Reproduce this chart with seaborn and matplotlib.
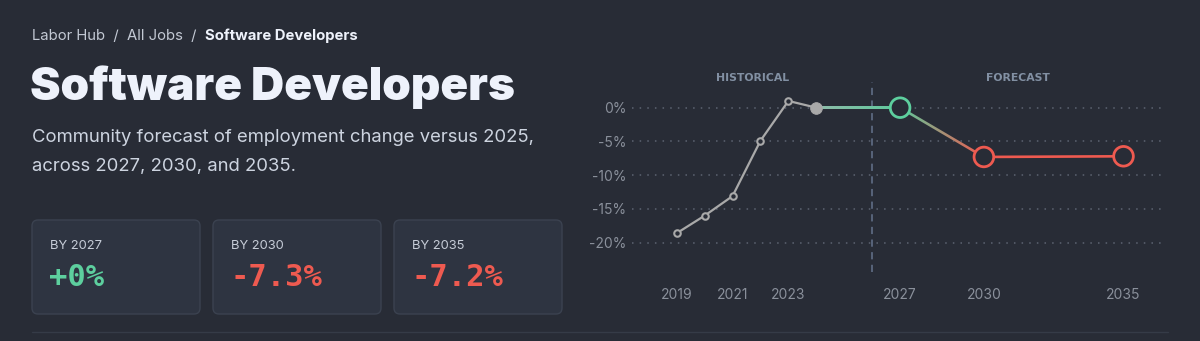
import numpy as np
import pandas as pd
import matplotlib
matplotlib.use("Agg")
import matplotlib.pyplot as plt
import seaborn as sns
from matplotlib.patches import FancyBboxPatch, Polygon
from matplotlib.lines import Line2D
from matplotlib.transforms import IdentityTransform
from matplotlib.colors import LinearSegmentedColormap

# --- Dados ---
hist_years = [2019, 2020, 2021, 2022, 2023, 2024]
hist_change = [-18.6, -16.0, -13.1, -4.9, 1.0, 0.0]
fc_years = [2024, 2027, 2030, 2035]
fc_change = [0.0, 0.0, -7.3, -7.2]
xtick_years = [2019, 2021, 2023, 2027, 2030, 2035]
ytick_vals = [0, -5, -10, -15, -20]
card_labels = ["BY 2027", "BY 2030", "BY 2035"]
card_values = ["+0%", "-7.3%", "-7.2%"]

# --- Cores ---
BG = "#282c36"
CARD = "#2e3441"
CARD_EDGE = "#3b4250"
GREEN = "#5dcf9e"
RED = "#ee5a50"
GRAY = "#a9a9a9"
MUTED = "#8a909b"
TEXT = "#eef2fb"

sns.set_theme(style="dark", rc={
    "figure.facecolor": BG, "axes.facecolor": BG, "savefig.facecolor": BG,
    "axes.edgecolor": BG, "text.color": TEXT, "xtick.color": MUTED,
    "ytick.color": MUTED, "axes.grid": False,
})
plt.rcParams["font.family"] = ["Inter", "DejaVu Sans"]

W, H = 1200, 341
fig = plt.figure(figsize=(W / 100, H / 100), dpi=100)

def px(x, y):
    # pixel da imagem (origem no topo) -> fração da figura
    return x / W, 1 - y / H

# --- Cabeçalho ---
bx, by = px(32, 36)
t1 = fig.text(bx, by, "Labor Hub  /  All Jobs  /  ", fontsize=10.7, color="#c3c9d4", va="center")
fig.canvas.draw()
bb = t1.get_window_extent()
fig.text(bb.x1 / W, by, "Software Developers", fontsize=10.7, color=TEXT,
         fontweight="bold", va="center")

tx, ty = px(30, 87)
fig.text(tx, ty, "Software Developers", fontsize=33, fontweight="black",
         color=TEXT, va="center")
sx, sy = px(32, 138)
fig.text(sx, sy, "Community forecast of employment change versus 2025,",
         fontsize=13.3, color="#cdd4e0", va="center")
sx, sy = px(32, 166)
fig.text(sx, sy, "across 2027, 2030, and 2035.", fontsize=13.3, color="#cdd4e0", va="center")

# --- Cards ---
card_x = [32, 213, 394]
val_colors = [GREEN, RED, RED]
for cx, lab, val, col in zip(card_x, card_labels, card_values, val_colors):
    box = FancyBboxPatch((cx, H - 314), 168, 94, boxstyle="round,pad=0,rounding_size=6",
                         facecolor=CARD, edgecolor=CARD_EDGE, linewidth=1,
                         transform=IdentityTransform())
    fig.patches.append(box)
    lx, ly = px(cx + 18, 246)
    fig.text(lx, ly, lab, fontsize=9.3, color="#c6ccd7", va="center")
    vx, vy = px(cx + 17, 278)
    fig.text(vx, vy, val, fontsize=22, color=col, fontweight="bold",
             family="DejaVu Sans Mono", va="center")

fig.add_artist(Line2D([32 / W, 1168 / W], [1 - 331.5 / H] * 2, color="#353b47",
                      linewidth=1, transform=fig.transFigure))

# --- Gráfico ---
ax = fig.add_axes([632 / W, 1 - 271.7 / H, (1164 - 632) / W, (271.7 - 81.7) / H])
ax.set_xlim(2017.4, 2036.45)
ax.set_ylim(-24.3, 3.85)
for s in ax.spines.values():
    s.set_visible(False)

for v in ytick_vals:
    ax.axhline(v, color="#5d6472", linewidth=1.1, linestyle=(0, (1, 4)), zorder=1)
ax.axvline(2026, color="#5b6880", linewidth=1.3, linestyle=(0, (4, 3)), zorder=1)

ax.set_xticks(xtick_years)
ax.set_xticklabels([str(y) for y in xtick_years])
ax.set_yticks(ytick_vals)
ax.set_yticklabels([f"{v}%" for v in ytick_vals])
ax.tick_params(axis="x", length=0, pad=12, labelsize=10, colors=MUTED)
ax.tick_params(axis="y", length=0, pad=4, labelsize=10, colors=MUTED)
ax.set_xlabel("")
ax.set_ylabel("")

ax.text(0.5 * (2017.4 + 2026), 1.02, "HISTORICAL", transform=ax.get_xaxis_transform(),
        ha="center", va="center", fontsize=7.8, fontweight="bold", color="#8290a3",
        family="DejaVu Sans")
ax.text(0.5 * (2026 + 2036.45), 1.02, "FORECAST", transform=ax.get_xaxis_transform(),
        ha="center", va="center", fontsize=7.8, fontweight="bold", color="#8290a3",
        family="DejaVu Sans")

hist = pd.DataFrame({"year": hist_years, "change": hist_change})
fc = pd.DataFrame({"year": fc_years, "change": fc_change})

sns.lineplot(data=hist, x="year", y="change", ax=ax, color=GRAY, linewidth=1.6, zorder=3)
sns.scatterplot(data=hist.iloc[:-1], x="year", y="change", ax=ax, s=22,
                facecolor=BG, edgecolor=GRAY, linewidth=1.5, zorder=4)
sns.scatterplot(data=hist.iloc[-1:], x="year", y="change", ax=ax, s=70,
                color=GRAY, edgecolor=GRAY, zorder=5)


def gradient_segment(x0, y0, x1, y1, c0, c1, width_px):
    # faixa fina entre dois pontos preenchida por um degradê
    p0 = ax.transData.transform((x0, y0))
    p1 = ax.transData.transform((x1, y1))
    d = p1 - p0
    n = np.array([-d[1], d[0]]) / np.hypot(*d) * width_px / 2
    quad = ax.transData.inverted().transform(np.array([p0 + n, p1 + n, p1 - n, p0 - n]))
    poly = Polygon(quad, closed=True, facecolor="none", edgecolor="none")
    ax.add_patch(poly)
    cmap = LinearSegmentedColormap.from_list("g", [c0, c1])
    im = ax.imshow(np.linspace(0, 1, 64)[None, :], cmap=cmap, aspect="auto",
                   extent=[x0, x1, min(y0, y1) - 1, max(y0, y1) + 1],
                   origin="lower", zorder=3, interpolation="bilinear")
    im.set_clip_path(poly)


fig.canvas.draw()
gradient_segment(fc_years[0], fc_change[0], fc_years[1], fc_change[1], "#8fbcaa", "#5ec99c", 2.6)
gradient_segment(fc_years[1], fc_change[1], fc_years[2], fc_change[2], "#5ec99c", RED, 2.6)
sns.lineplot(data=fc.iloc[2:], x="year", y="change", ax=ax, color=RED, linewidth=1.9, zorder=3)
ax.set_xlim(2017.4, 2036.45)
ax.set_ylim(-24.3, 3.85)

sns.scatterplot(data=fc.iloc[1:], x="year", y="change", ax=ax, s=200,
                facecolor=BG, edgecolor=[GREEN, RED, RED], linewidth=2, zorder=6)
ax.set_xlabel("")
ax.set_ylabel("")

fig.savefig("out.png", dpi=100, facecolor=BG)
